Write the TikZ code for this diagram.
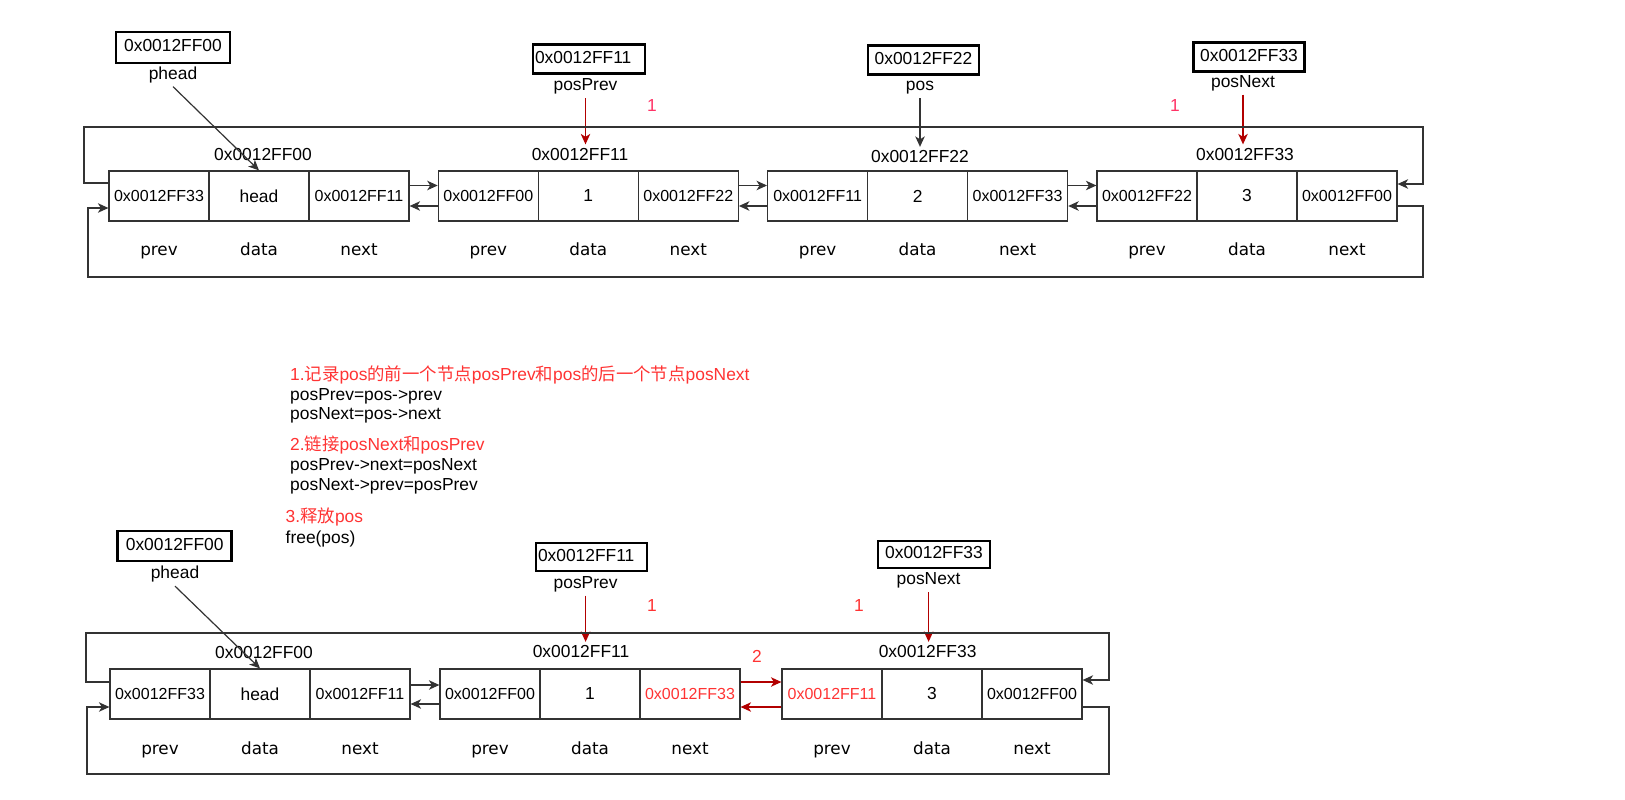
\documentclass[tikz,border=0pt]{standalone}
\usepackage{fontspec}
\setmainfont{Liberation Sans}
\newfontfamily\cjk{Noto Sans CJK SC}
\newfontfamily\djv{DejaVu Sans}
\usetikzlibrary{arrows.meta}
\definecolor{lnc}{HTML}{333333}
\definecolor{darkred}{HTML}{B20000}
\definecolor{txtred}{HTML}{FF3333}
\definecolor{pinkred}{HTML}{FF3366}
\newcommand\bigf{\fontsize{17.4}{20}\selectfont}
\newcommand\mkcells[7]{%
  \node[cell] (#1p) at (#2+50,#3) {#4};
  \node[cell] (#1d) at (#2+150,#3) {#5};
  \node[cell] (#1n) at (#2+250,#3) {#6};
  \node[fld] (#1lp) at (#2+50,#7) {prev};
  \node[fld] (#1ld) at (#2+150,#7) {data};
  \node[fld] (#1ln) at (#2+250,#7) {next};
}
\begin{document}
\begin{tikzpicture}[x=1pt,y=-1pt,
  cell/.style={draw=lnc, line width=1.2pt, minimum width=100pt, minimum height=50pt, inner sep=0pt, font=\fontsize{16}{18}\selectfont},
  bigtxt/.style={font=\bigf, text height=12.5pt, text depth=3.7pt},
  fld/.style={font=\djv\fontsize{16.8}{19}\selectfont, text height=12pt, text depth=3.5pt},
  ptr/.style={draw=black, line width=2.6pt, bigtxt, inner xsep=2pt, inner ysep=0pt},
  arr/.style={draw=lnc, line width=1.2pt, -{Stealth[length=10.5pt,width=9.5pt,inset=3pt]}},
  rarr/.style={arr, draw=darkred},
  txt/.style={bigtxt, anchor=west, inner xsep=0pt}
]
\useasboundingbox (0,0) rectangle (1625,800);

%================ TOP DIAGRAM =================
\mkcells{ta}{109}{196}{0x0012FF33}{\bigf head}{0x0012FF11}{251.5}
\mkcells{tb}{438.3}{196}{0x0012FF00}{\bigf 1}{0x0012FF22}{251.5}
\mkcells{tc}{767.6}{196}{0x0012FF11}{\bigf 2}{0x0012FF33}{251.5}
\mkcells{td}{1097}{196}{0x0012FF22}{\bigf 3}{0x0012FF00}{251.5}

% pointer boxes
\node[ptr, minimum width=114pt, minimum height=31pt] (tph) at (173,47.5) {0x0012FF00};
\node[ptr, text width=108pt, align=left, minimum height=29pt] (tpp) at (589,59) {0x0012FF11};
\node[ptr, minimum width=111pt, minimum height=29pt] (tps) at (923.5,60) {0x0012FF22};
\node[ptr, minimum width=111pt, minimum height=29pt] (tpn) at (1249,57) {0x0012FF33};
\node[bigtxt] (tphl) at (173,75) {phead};
\node[bigtxt] (tppl) at (585.5,86.5) {posPrev};
\node[bigtxt] (tpsl) at (920,86.5) {pos};
\node[bigtxt] (tpnl) at (1243,83) {posNext};

% address labels
\node[bigtxt] (tadr1) at (263,156) {0x0012FF00};
\node[bigtxt] (tadr2) at (580,156) {0x0012FF11};
\node[bigtxt] (tadr3) at (920,158.5) {0x0012FF22};
\node[bigtxt] (tadr4) at (1245,156) {0x0012FF33};

\node[bigtxt, text=pinkred] (tone1) at (652,107) {1};
\node[bigtxt, text=pinkred] (tone2) at (1175,107) {1};

% pointer arrows
\draw[arr] (tphl.south) -- (tad.north);
\draw[rarr] (tppl.south) -- (tppl.south |- tadr2.north);
\draw[arr] (tpsl.south) -- (tpsl.south |- tadr3.north);
\draw[rarr] (tpnl.south) -- (tpnl.south |- tadr4.north);

% links between nodes
\draw[arr] ([yshift=10.5pt]tan.east) -- ([yshift=10.5pt]tbp.west);
\draw[arr] ([yshift=-10pt]tbp.west) -- ([yshift=-10pt]tan.east);
\draw[arr] ([yshift=10.5pt]tbn.east) -- ([yshift=10.5pt]tcp.west);
\draw[arr] ([yshift=-10pt]tcp.west) -- ([yshift=-10pt]tbn.east);
\draw[arr] ([yshift=10.5pt]tcn.east) -- ([yshift=10.5pt]tdp.west);
\draw[arr] ([yshift=-10pt]tdp.west) -- ([yshift=-10pt]tcn.east);

% circular links
\draw[arr] ([yshift=13pt]tap.west) -- (84,183) -- (84,127) -- (1423,127) -- (1423,184) -- ([yshift=12pt]tdn.east);
\draw[arr] ([yshift=-10pt]tdn.east) -- (1423,206) -- (1423,277) -- (88,277) -- (88,208) -- ([yshift=-12pt]tap.west);

%================ TEXT BLOCK =================
\node[txt, text=txtred] (s1) at (290,376) {1.{\cjk 记录}pos{\cjk 的前一个节点}posPrev{\cjk 和}pos{\cjk 的后一个节点}posNext};
\node[txt] (s1a) at (290,396) {posPrev=pos->prev};
\node[txt] (s1b) at (290,415.5) {posNext=pos->next};
\node[txt, text=txtred] (s2) at (290,446.5) {2.{\cjk 链接}posNext{\cjk 和}posPrev};
\node[txt] (s2a) at (290,466.5) {posPrev->next=posNext};
\node[txt] (s2b) at (290,486) {posNext->prev=posPrev};
\node[txt, text=txtred] (s3) at (285.5,518.5) {3.{\cjk 释放}pos};
\node[txt] (s3a) at (285.5,539) {free(pos)};

%================ BOTTOM DIAGRAM =================
\mkcells{ba}{110}{694}{0x0012FF33}{\bigf head}{0x0012FF11}{750.5}
\mkcells{bb}{440}{694}{0x0012FF00}{\bigf 1}{\textcolor{txtred}{0x0012FF33}}{750.5}
\mkcells{bc}{782}{694}{\textcolor{txtred}{0x0012FF11}}{\bigf 3}{0x0012FF00}{750.5}

\node[ptr, minimum width=114pt, minimum height=30pt] (bph) at (174.7,546) {0x0012FF00};
\node[ptr, text width=107pt, align=left, minimum height=28pt] (bpp) at (591.5,557) {0x0012FF11};
\node[ptr, minimum width=112pt, minimum height=27pt] (bpn) at (934,554.5) {0x0012FF33};
\node[bigtxt] (bphl) at (175,574.5) {phead};
\node[bigtxt] (bppl) at (585.6,584) {posPrev};
\node[bigtxt] (bpnl) at (928.6,580.5) {posNext};

\node[bigtxt] (badr1) at (264,654) {0x0012FF00};
\node[bigtxt] (badr2) at (581,653.5) {0x0012FF11};
\node[bigtxt] (badr3) at (927.6,653.5) {0x0012FF33};

\node[bigtxt, text=txtred] (bone1) at (652,607) {1};
\node[bigtxt, text=txtred] (bone2) at (859,607) {1};
\node[bigtxt, text=txtred] (btwo) at (757,658) {2};

\draw[arr] (bphl.south) -- (bad.north);
\draw[rarr] (bppl.south) -- (bppl.south |- badr2.north);
\draw[rarr] (bpnl.south) -- (bpnl.south |- badr3.north);

\draw[arr] ([yshift=9pt]ban.east) -- ([yshift=9pt]bbp.west);
\draw[arr] ([yshift=-10pt]bbp.west) -- ([yshift=-10pt]ban.east);
\draw[rarr] ([yshift=12pt]bbn.east) -- ([yshift=12pt]bcp.west);
\draw[rarr] ([yshift=-13pt]bcp.west) -- ([yshift=-13pt]bbn.east);

\draw[arr] ([yshift=12pt]bap.west) -- (86,682) -- (86,633) -- (1109,633) -- (1109,680) -- ([yshift=14pt]bcn.east);
\draw[arr] ([yshift=-13pt]bcn.east) -- (1109,707) -- (1109,774) -- (87,774) -- (87,707) -- ([yshift=-13pt]bap.west);
\end{tikzpicture}
\end{document}
